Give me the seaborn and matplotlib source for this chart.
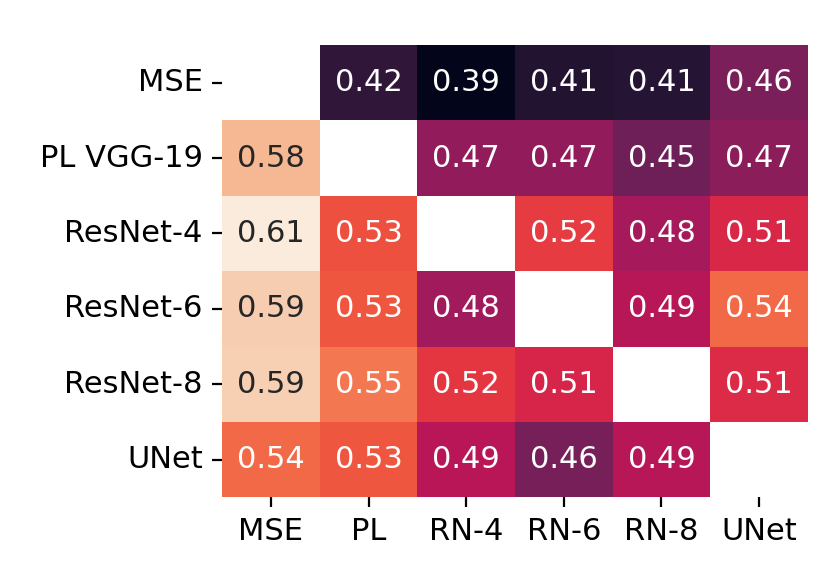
import numpy as np
import pandas as pd
import matplotlib
matplotlib.use("Agg")
import matplotlib.pyplot as plt
import seaborn as sns

row_labels = ["MSE", "PL VGG-19", "ResNet-4", "ResNet-6", "ResNet-8", "UNet"]
col_labels = ["MSE", "PL", "RN-4", "RN-6", "RN-8", "UNet"]

mse_row = [np.nan, 0.418, 0.390, 0.410, 0.412, 0.458]
pl_row = [0.580, np.nan, 0.470, 0.470, 0.452, 0.468]
rn4_row = [0.610, 0.530, np.nan, 0.520, 0.481, 0.510]
rn6_row = [0.592, 0.532, 0.478, np.nan, 0.489, 0.541]
rn8_row = [0.593, 0.548, 0.518, 0.508, np.nan, 0.512]
unet_row = [0.541, 0.532, 0.490, 0.457, 0.489, np.nan]

df = pd.DataFrame([mse_row, pl_row, rn4_row, rn6_row, rn8_row, unet_row],
                  index=row_labels, columns=col_labels)

fig = plt.figure(figsize=(4.16, 2.925), dpi=200)
ax = fig.add_axes([0.267, 0.150, 0.704, 0.773])
sns.heatmap(df, annot=True, fmt=".2f", cmap="rocket", cbar=False,
            annot_kws={"size": 11}, ax=ax)
ax.tick_params(axis="both", labelsize=11)
plt.setp(ax.get_yticklabels(), rotation=0)
plt.setp(ax.get_xticklabels(), rotation=0)
fig.savefig("out.png", dpi=200)
